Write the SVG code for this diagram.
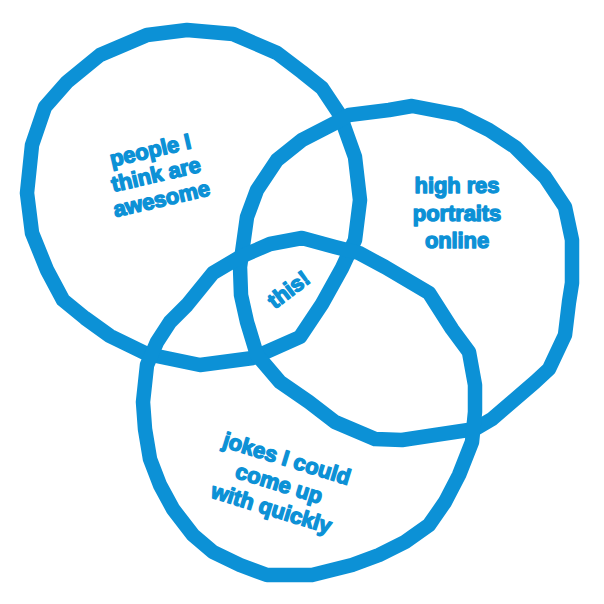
<svg xmlns="http://www.w3.org/2000/svg" width="604" height="604" viewBox="0 0 604 604">
  <style>
    .ring { fill: none; stroke: #0c91d6; stroke-width: 14.5; stroke-linejoin: round; }
    .lbl { font-family: "Liberation Sans", Arial, sans-serif; font-weight: bold; font-size: 22px; letter-spacing: -0.1px; fill: #0c91d6; stroke: #0c91d6; stroke-width: 1.4; stroke-linejoin: round; text-anchor: middle; }
  </style>
  <rect width="604" height="604" fill="#ffffff"/>

  <!-- hand-drawn rings -->
  <g id="rings">
    <polygon id="ring-awesome" class="ring" points="187,30 233,34 277,53 302,72 322,88 340,115 355,157 360,200 355,240 342,268 322,304 300,337 253,358 200,365 147,354 110,336 85,318 63,300 47,270 32,233 27,193 32,145 45,107 67,82 100,55 147,35"/>
    <polygon id="ring-portraits" class="ring" points="349,115 389,110 412,106 459,115 489,130 515,147 545,177 565,207 572,240 572,283 569,302 565,335 549,369 535,382 492,419 475,429 435,435 402,440 375,439 335,422 309,402 280,382 257,355 247,322 241,295 240,267 247,217 257,190 277,160 302,140 335,123"/>
    <polygon id="ring-jokes" class="ring" points="302,238 335,247 359,253 385,267 429,293 452,329 469,352 475,385 475,412 472,442 459,475 445,502 429,525 405,542 379,555 352,565 312,575 267,575 240,565 213,552 193,535 173,509 160,485 150,459 145,429 143,402 147,365 157,342 170,322 187,305 213,273 240,257 270,244"/>
  </g>

  <!-- labels -->
  <g id="label-awesome" transform="translate(156,175) rotate(-13)">
    <text class="lbl" x="0" y="-18">people I</text>
    <text class="lbl" x="0" y="7">think are</text>
    <text class="lbl" x="0" y="32">awesome</text>
  </g>
  <g id="label-portraits">
    <text class="lbl" x="457" y="193">high res</text>
    <text class="lbl" x="457" y="221">portraits</text>
    <text class="lbl" x="457" y="248">online</text>
  </g>
  <g id="label-this" transform="translate(289,290) rotate(-37)">
    <text class="lbl" x="0" y="7">this!</text>
  </g>
  <g id="label-jokes" transform="translate(279,484) rotate(17)">
    <text class="lbl" x="0" y="-19">jokes I could</text>
    <text class="lbl" x="0" y="7">come up</text>
    <text class="lbl" x="0" y="33">with quickly</text>
  </g>
</svg>
